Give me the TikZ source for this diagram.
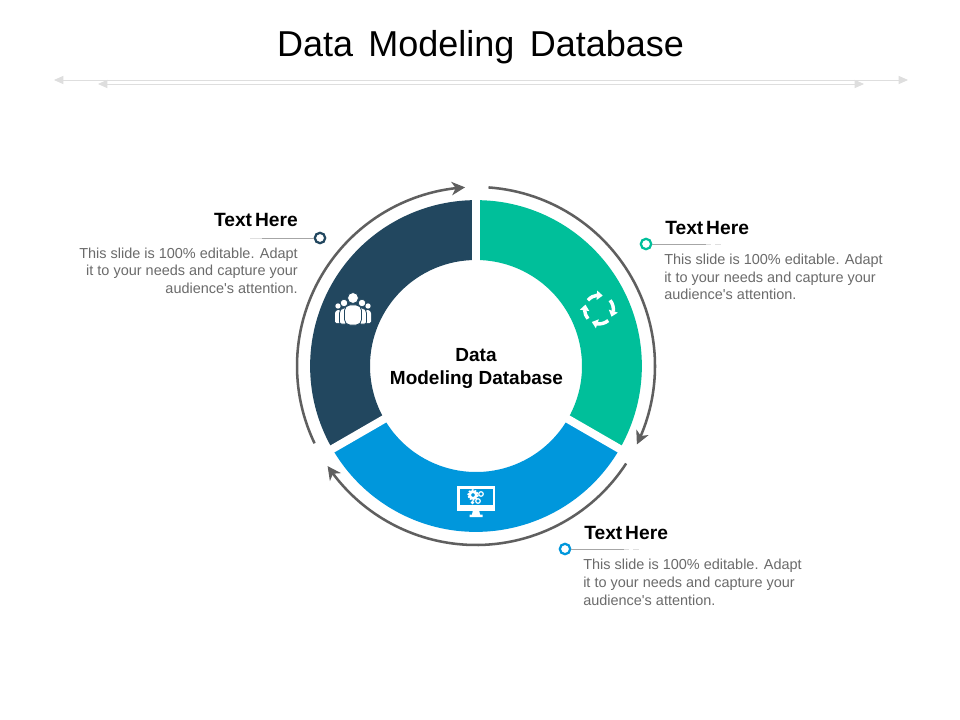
\documentclass[tikz,border=0pt]{standalone}
\usepackage{fontspec}
\setmainfont{Liberation Sans}
\newfontfamily\plainfont{Liberation Sans}
\usetikzlibrary{arrows.meta,bending}
\definecolor{navy}{HTML}{22475F}
\definecolor{teal}{HTML}{00BF9A}
\definecolor{sky}{HTML}{0097DC}
\definecolor{ringgray}{HTML}{5F5F5F}
\definecolor{bodygray}{HTML}{6B6B6B}
\definecolor{rulegray}{HTML}{DEDEDE}
\tikzset{
  heading/.style={anchor=base,inner sep=0pt,font=\fontsize{14.4pt}{16pt}\selectfont\bfseries,text=black},
  bodytext/.style={anchor=base west,inner sep=0pt,font=\fontsize{10.85pt}{13pt}\plainfont\selectfont,text=bodygray},
  bodyright/.style={bodytext,anchor=base east},
  ringarrow/.style={draw=ringgray,line width=1.9pt,-{Stealth[length=10pt,width=10pt,inset=3pt,flex]}},
  toprule/.style={draw=rulegray,line width=.7pt,{Triangle[length=7pt,width=6pt]}-{Triangle[length=7pt,width=6pt]}},
  gapline/.style={draw=white,line width=6pt},
  dot/.style={circle,fill=white,line width=1.7pt,minimum size=7.8pt,inner sep=0pt},
  leader/.style={draw=#1,line width=.6pt},
  iconline/.style={draw=white,line width=2.6pt},
  cutline/.style={draw=navy,line width=.6pt},
}
\begin{document}
\begin{tikzpicture}[x=.75pt,y=-.75pt]
\useasboundingbox (0,0) rectangle (960,720);
\fill[white] (0,0) rectangle (960,720);
% title
\node[anchor=base,inner sep=0pt,font=\fontsize{27pt}{30pt}\selectfont] (title) at (480.5,57) {Data\hspace{11.5pt}Modeling\hspace{11.5pt}Database};
% header rules
\coordinate (r1a) at (54,80); \coordinate (r1b) at (908,80);
\coordinate (r2a) at (98,84); \coordinate (r2b) at (864,84);
\draw[toprule] (r1a) -- (r1b);
\draw[toprule] (r2a) -- (r2b);
% ring
\begin{scope}[shift={(476,366)},y=.75pt]
  \fill[teal] (90:124.4pt) arc[start angle=90,end angle=-30,radius=124.4pt] -- (-30:79.5pt) arc[start angle=-30,end angle=90,radius=79.5pt] -- cycle;
  \fill[sky] (-30:124.4pt) arc[start angle=-30,end angle=-150,radius=124.4pt] -- (-150:79.5pt) arc[start angle=-150,end angle=-30,radius=79.5pt] -- cycle;
  \fill[navy] (210:124.4pt) arc[start angle=210,end angle=90,radius=124.4pt] -- (90:79.5pt) arc[start angle=90,end angle=210,radius=79.5pt] -- cycle;
  \draw[gapline] (90:70pt) -- (90:130pt);
  \draw[gapline] (-30:70pt) -- (-30:130pt);
  \draw[gapline] (210:70pt) -- (210:130pt);
  % outer arrows
  \draw[ringarrow] (86:134.25pt) arc[start angle=86,end angle=-26,radius=134.25pt];
  \draw[ringarrow] (-33:134.25pt) arc[start angle=-33,end angle=-146,radius=134.25pt];
  \draw[ringarrow] (205.6:134.25pt) arc[start angle=205.6,end angle=93.5,radius=134.25pt];
\end{scope}
% centre text
\node[heading,font=\fontsize{14.25pt}{17pt}\selectfont\bfseries] (c1) at (476,361) {Data};
\node[heading,font=\fontsize{14.25pt}{17pt}\selectfont\bfseries] (c2) at (476.5,384) {Modeling Database};
% left block
\node[heading,anchor=base east] (h1) at (298,227) {Text\hspace{2.2pt}Here};
\node[bodyright] (l1) at (298,258.5) {This slide is 100\% editable. Adapt};
\node[bodyright] (l2) at (298,275.5) {it to your needs and capture your};
\node[bodyright] (l3) at (298,293) {audience's attention.};
\node[dot,draw=navy] (d1) at (320,238) {};
\coordinate (e1) at (262,238);
\draw[leader=gray!70] (d1) -- (e1);
\draw[leader=gray!25] (e1) -- (250,238);
% right top block
\node[heading,anchor=base west] (h2) at (665,235) {Text\hspace{2.2pt}Here};
\node[bodytext] (m1) at (664,265) {This slide is 100\% editable. Adapt};
\node[bodytext] (m2) at (664,283) {it to your needs and capture your};
\node[bodytext] (m3) at (664,300) {audience's attention.};
\node[dot,draw=teal] (d2) at (646,244) {};
\coordinate (e2) at (706,244);
\draw[leader=gray!70] (d2) -- (e2);
\draw[leader=gray!25,dash pattern=on 4pt off 3pt] (e2) -- (724,244);
% right bottom block
\node[heading,anchor=base west] (h3) at (584,539) {Text\hspace{2.2pt}Here};
\node[bodytext] (n1) at (583,569) {This slide is 100\% editable. Adapt};
\node[bodytext] (n2) at (583,587) {it to your needs and capture your};
\node[bodytext] (n3) at (583,605) {audience's attention.};
\node[dot,draw=sky] (d3) at (565,549) {};
\coordinate (e3) at (624,549);
\draw[leader=gray!70] (d3) -- (e3);
\draw[leader=gray!25,dash pattern=on 4pt off 3pt] (e3) -- (642,549);
% people icon
\begin{scope}
  \fill[white] (338,306) circle (2.7);
  \fill[white] (368,306) circle (2.7);
  \fill[white,rounded corners=1pt] (335,323) -- (335,312) -- (337,310) -- (341,310) -- (341,323) -- cycle;
  \fill[white,rounded corners=1pt] (371,323) -- (371,312) -- (369,310) -- (365,310) -- (365,323) -- cycle;
  \fill[white,cutline] (344,303) circle (3.8);
  \fill[white,cutline] (362,303) circle (3.8);
  \fill[white,rounded corners=1.5pt,cutline] (339.5,324) -- (339.5,311) -- (342,308) -- (347,308) -- (347,324) -- cycle;
  \fill[white,rounded corners=1.5pt,cutline] (366.5,324) -- (366.5,311) -- (364,308) -- (359,308) -- (359,324) -- cycle;
  \fill[white,cutline] (353,298) circle (5.5);
  \fill[white,cutline,rounded corners=4pt] (344.5,325) -- (344.5,305) -- (361.5,305) -- (361.5,325) -- cycle;
\end{scope}
% cycle icon
\begin{scope}[shift={(599,309.5)},y=.75pt]
  \foreach \s/\e in {140/75,40/-30,-50/-120,-140/-200}{
    \draw[iconline,-{Triangle[length=4.4pt,width=6.8pt,flex]}] (\s:10.8pt) arc[start angle=\s,end angle=\e,radius=10.8pt];
  }
\end{scope}
% monitor icon
\begin{scope}
  \fill[white] (457,486) rectangle (495,510.5);
  \fill[sky] (459.5,488.5) rectangle (492.5,504.5);
  \fill[white] (473,510) -- (479,510) -- (480,514.5) -- (482.5,514.5) -- (482.5,517) -- (469.5,517) -- (469.5,514.5) -- (472,514.5) -- cycle;
  \draw[white,line width=1.2pt,dash pattern=on 1.4pt off .9pt] (473,495) circle (5);
  \draw[white,line width=1.9pt] (473,495) circle (3.3);
  \draw[white,line width=.9pt] (481,494) circle (2.3);
  \draw[white,line width=.9pt] (478,501) circle (2.3);
  \fill[white] (472.5,502.5) circle (1.8);
\end{scope}
\end{tikzpicture}
\end{document}
